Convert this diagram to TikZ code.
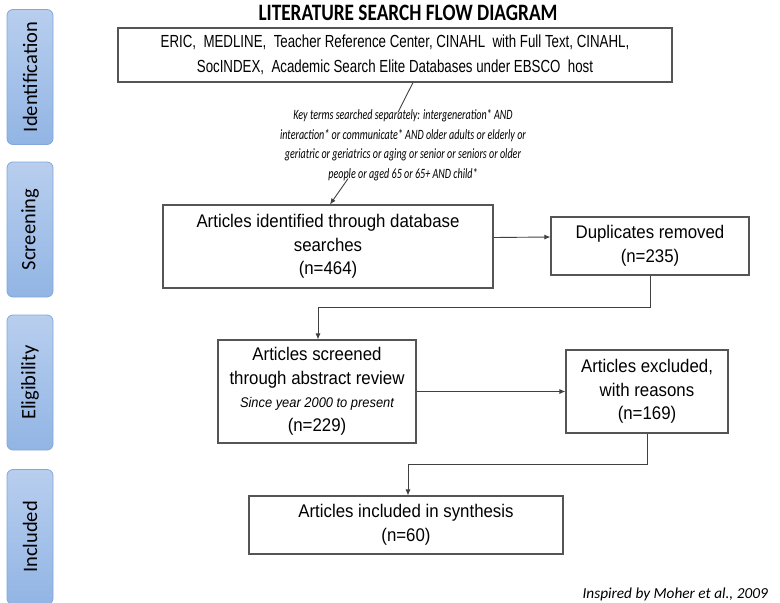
\documentclass[tikz,border=0pt]{standalone}
\usepackage{fontspec}
\setmainfont{Liberation Sans}[FakeStretch=0.92]
\newfontfamily\dbfont{Liberation Sans}[FakeStretch=0.76]
\newfontfamily\calfont{Carlito}[FakeStretch=0.82]
\newfontfamily\keyfont{Carlito}[FakeStretch=0.71]
\newfontfamily\stagefont{Carlito}
\usepackage{xcolor}
\usetikzlibrary{arrows.meta, positioning, calc}

\definecolor{stagetop}{RGB}{184,206,238}
\definecolor{stagebot}{RGB}{146,181,228}
\definecolor{stageline}{RGB}{130,167,218}
\definecolor{boxline}{RGB}{85,85,85}

\begin{document}
\begin{tikzpicture}[x=1pt, y=-1pt,
    stage/.style={rectangle, rounded corners=6pt, draw=stageline, thick,
                  top color=stagetop, bottom color=stagebot, rotate=90,
                  minimum width=135pt, minimum height=46pt,
                  font=\stagefont\fontsize{20.5}{24}\selectfont},
    flowbox/.style={rectangle, draw=boxline, line width=1.1pt, fill=white,
                    align=center, inner sep=2pt,
                    font=\fontsize{18.3}{23.5}\selectfont},
    flow/.style={-{Latex[length=6pt, width=5pt]}, black!75, line width=0.9pt},
    plain/.style={black!75, line width=0.9pt},
]
\useasboundingbox (0,0) rectangle (780,603);

% Title
\node[font=\calfont\bfseries\fontsize{23.5}{26}\selectfont] (title) at (408,13) {LITERATURE SEARCH FLOW DIAGRAM};

% Stages (left column)
\foreach \nm/\yc/\lab in {ident/77/Identification, screen/229.5/Screening,
                          elig/382.5/Eligibility, incl/537/Included} {
    \node[stage] (stage\nm) at (30,\yc) {\lab};
}

% Boxes
\node[flowbox, minimum width=554pt, minimum height=54pt,
      font=\dbfont\fontsize{17.5}{25}\selectfont] (db) at (395,55)
    {ERIC,\ \ MEDLINE,\ \ Teacher Reference Center, CINAHL\ \ with Full Text, CINAHL,\\
     SocINDEX,\ \ Academic Search Elite Databases under EBSCO\ \ host};
\node[align=center, inner sep=1pt, font=\keyfont\itshape\fontsize{14.2}{19.5}\selectfont] (keys) at (403,145)
    {Key terms searched separately: intergeneration* AND\\
     interaction* or communicate* AND older adults or elderly or\\
     geriatric or geriatrics or aging or senior or seniors or older\\
     people or aged 65 or 65+ AND child*};
\node[flowbox, minimum width=330pt, minimum height=83pt] (found) at (328,246.5)
    {Articles identified through database\\ searches\\ (n=464)};
\node[flowbox, minimum width=198pt, minimum height=58pt] (dupl) at (650,246)
    {Duplicates removed\\ (n=235)};
\node[flowbox, minimum width=198pt, minimum height=103pt] (screened) at (317,391.5)
    {Articles screened\\ through abstract review\\
     {\itshape\fontsize{14}{23.5}\selectfont Since year 2000 to present}\\ (n=229)};
\node[flowbox, minimum width=162pt, minimum height=83pt] (excl) at (647,391.5)
    {Articles excluded,\\ with reasons\\ (n=169)};
\node[flowbox, minimum width=314pt, minimum height=58pt] (synth) at (406,525)
    {Articles included in synthesis\\ (n=60)};

% Credit
\node[anchor=east, inner sep=0pt, font=\stagefont\itshape\fontsize{15.3}{18}\selectfont] (credit) at (768,594)
    {Inspired by Moher et al., 2009};

% Connectors
\coordinate (bend1) at (650,307);
\coordinate (bend2) at (647,464);
\draw[plain] ([xshift=18pt]db.south) -- ([xshift=-5pt, yshift=-4pt]keys.north);
\draw[flow] ([xshift=-55pt, yshift=3pt]keys.south) -- ([xshift=2pt]found.north);
\draw[flow] ([yshift=9pt]found.east) -- ([yshift=9pt]dupl.west);
\draw[flow] (dupl.south) -- (bend1) -| ([xshift=1pt]screened.north);
\draw[flow] (screened.east) -- (excl.west);
\draw[flow] (excl.south) -- (bend2) -| ([xshift=2pt]synth.north);

\end{tikzpicture}
\end{document}
